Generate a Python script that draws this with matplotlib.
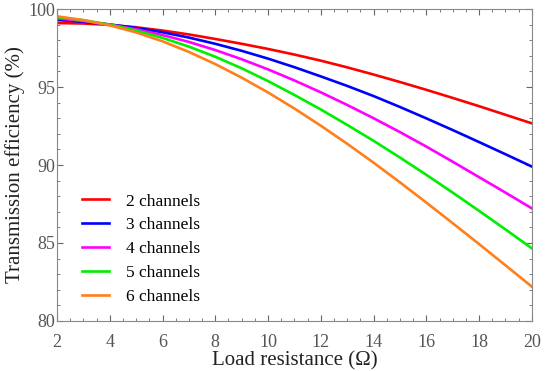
import matplotlib
matplotlib.use('Agg')
import matplotlib.pyplot as plt
from matplotlib.ticker import MultipleLocator

# data
load_r = [2, 3, 4, 5, 6, 7, 8, 9, 10, 11, 12, 13, 14, 15, 16, 17, 18, 19, 20]
eff_2ch = [99.10, 99.07, 98.98, 98.83, 98.62, 98.37, 98.08, 97.77, 97.44, 97.08,
           96.69, 96.26, 95.80, 95.32, 94.82, 94.30, 93.77, 93.22, 92.67]
eff_3ch = [99.30, 99.18, 99.01, 98.79, 98.51, 98.17, 97.77, 97.32, 96.82, 96.27,
           95.68, 95.07, 94.42, 93.72, 92.99, 92.24, 91.47, 90.69, 89.90]
eff_4ch = [99.40, 99.23, 99.00, 98.70, 98.33, 97.89, 97.37, 96.78, 96.13, 95.42,
           94.66, 93.85, 93.00, 92.11, 91.18, 90.21, 89.22, 88.23, 87.22]
eff_5ch = [99.47, 99.28, 99.00, 98.62, 98.15, 97.59, 96.94, 96.20, 95.38, 94.49,
           93.56, 92.57, 91.55, 90.48, 89.37, 88.23, 87.06, 85.87, 84.66]
eff_6ch = [99.53, 99.29, 98.95, 98.50, 97.93, 97.25, 96.47, 95.60, 94.65, 93.62,
           92.52, 91.36, 90.15, 88.89, 87.59, 86.27, 84.93, 83.57, 82.20]
labels = ['2 channels', '3 channels', '4 channels', '5 channels', '6 channels']
colors = ['#ff0000', '#0000ff', '#ff00ff', '#00ee00', '#ff7f1a']

plt.rcParams['font.family'] = ['Liberation Serif', 'DejaVu Serif']

fig = plt.figure(figsize=(5.5, 3.71), dpi=100)
ax = fig.add_axes([0.1036, 0.1348, 0.8634, 0.8409])

for y, lab, c in zip([eff_2ch, eff_3ch, eff_4ch, eff_5ch, eff_6ch], labels, colors):
    ax.plot(load_r, y, color=c, lw=1.9, label=lab)

ax.set_xlim(2, 20)
ax.set_ylim(80, 100)
ax.xaxis.set_major_locator(MultipleLocator(2))
ax.xaxis.set_minor_locator(MultipleLocator(0.5))
ax.yaxis.set_major_locator(MultipleLocator(5))
ax.yaxis.set_minor_locator(MultipleLocator(1))
ax.tick_params(which='both', direction='in', top=True, right=True, colors='#666666',
               labelcolor='#555555', labelsize=13)
ax.tick_params(which='major', length=4.5)
ax.tick_params(which='minor', length=2.5)
ax.tick_params(axis='x', which='major', pad=9.5)
ax.tick_params(axis='y', which='major', pad=1.5)
for s in ax.spines.values():
    s.set_color('#888888')
    s.set_linewidth(0.8)

ax.set_xlabel('Load resistance (\u03a9)', fontsize=15, color='#222222', labelpad=0)
ax.set_ylabel('Transmission efficiency (%)', fontsize=15, color='#222222', labelpad=2)

ax.legend(loc='lower left', bbox_to_anchor=(0.02, 0.0), frameon=False, fontsize=12.5,
          handlelength=1.55, handletextpad=1.0, labelspacing=0.45)

fig.savefig('out.png', dpi=100)
